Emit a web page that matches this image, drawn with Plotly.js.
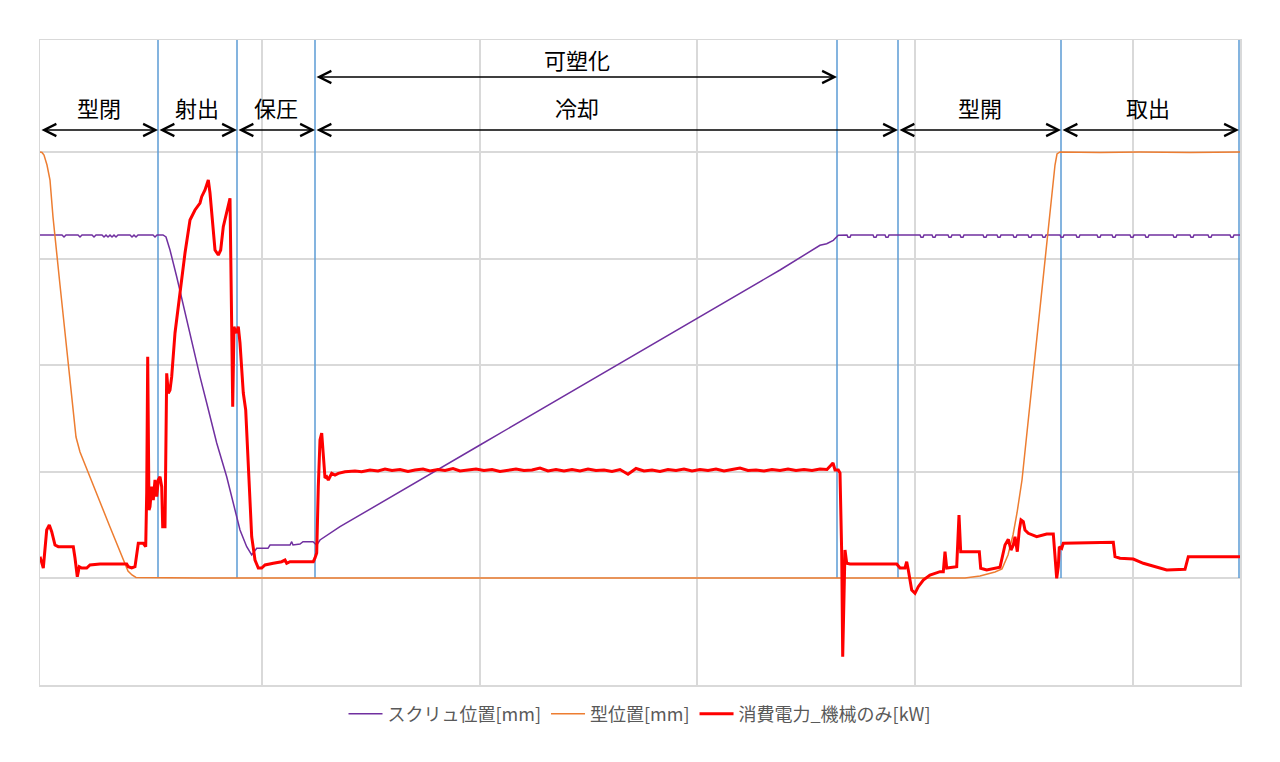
<!DOCTYPE html>
<html>
<head>
<meta charset="utf-8">
<script src="https://cdn.plot.ly/plotly-3.0.1.min.js"></script>
<style>
  html, body { margin: 0; padding: 0; background: #fff; }
  #chart { width: 1280px; height: 762px; }
</style>
</head>
<body>
<div id="chart"></div>
<script>
// ---- Data (time in samples, values in chart units; gridline spacing ≈ 106.5 units) ----
const seriesNames = ['スクリュ位置[mm]', '型位置[mm]', '消費電力_機械のみ[kW]'];

const screwT = [0,22,24,26,38,40,42,52,54,56,62,64,66,68,70,72,74,76,78,90,92,94,96,98,113,115,117,120,123,126,
  130,136.7,146.7,160,166.7,176.7,186.7,193.3,200,206.7,211.7,216.7,228,230,250,251.7,253,260,263,273,276.7,280,293,300,
  440,560,657,740,780,786.7,793.3,798.3,
  807,808,810,811,833,834,836,837,845,846,848,849,880,881,883,884,892,893,895,896,908,909,911,912,920,921,923,924,
  943,944,946,947,957,958,960,961,973,974,976,977,988,989,991,992,1002,1003,1005,1006,1020,1021,1023,1024,1036,1037,1039,1040,
  1057,1058,1060,1061,1072,1073,1075,1076,1090,1091,1093,1094,1105,1106,1108,1109,1133,1134,1136,1137,1150,1151,1153,1154,
  1168,1169,1171,1172,1190,1191,1193,1194,1203];
const screwV = [343,343,341,343,343,341,343,343,341,343,343,341,343,341,343,341,343,341,343,343,341,343,341,343,343,341,343,343,343,341,
  328,301.3,258,201.3,175,135,101.3,75,48,31.3,23,29.7,29.7,33,33,36.3,33,34,36.3,36.3,33,38,46.3,51.3,
  133,203,259,308,332.7,334.3,337.7,342.7,
  343,340.7,340.7,343,343,340.7,340.7,343,343,340.7,340.7,343,343,340.7,340.7,343,343,340.7,340.7,343,343,340.7,340.7,343,343,340.7,340.7,343,
  343,340.7,340.7,343,343,340.7,340.7,343,343,340.7,340.7,343,343,340.7,340.7,343,343,340.7,340.7,343,343,340.7,340.7,343,343,340.7,340.7,343,
  343,340.7,340.7,343,343,340.7,340.7,343,343,340.7,340.7,343,343,340.7,340.7,343,343,340.7,340.7,343,343,340.7,340.7,343,
  343,340.7,340.7,343,343,340.7,340.7,343,343];

const moldT = [0,2,4,7,10,13,20,28,36,40,50,58,70,80,88,92,96,160,360,560,760,925,940,955,962,968,973,977,982,990,1000,1008,1012,1015,1017,1020,1060,1100,1150,1203];
const moldV = [426,425.5,423,413,398,361,293,216,141,126,100,81,51,26,7,3,0.5,0,0,0,0,0,2,6,9,23,43,65,98,175,271,348,388,413,424,426,425.5,426,425.6,426];

const powerT = [0,3.3,6.7,9.3,11.7,15,18.3,33.3,35,37.3,39.3,41.7,46.7,50,60,86.7,88.3,91.7,95,98.3,103.3,105.7,106.7,107.7,109,110,111.7,113.3,115,116.7,118.3,120,121.7,122.7,125,
  126.7,128.3,130,131.7,135,140,145,150,155,160,161.7,165,168.3,170,173.3,175,178.3,180.7,183.3,186.7,190,191.7,192.7,194,195,196.7,198.3,200,203.3,205.7,208.3,211.7,215,218.3,221.7,225,233.3,241.7,245,246.7,250,273.3,
  275,276.7,278.3,280,281.7,283.3,285,286.7,288.3,291.7,295,298.3,305,315,321.7,330,338,345,352,360,368,375,383,390,398,405,413,420,428,436,444,452,460,468,476,484,492,500,508,516,524,532,540,548,556,564,572,580,588,596,604,612,620,628,636,644,652,660,668,676,684,692,700,708,716,724,732,740,748,756,764,772,780,787,793,795,798.3,
  800,801.7,802.7,804,805,806.7,810,856.7,860,865,866.7,868.3,871.7,875,878.3,883.3,890,900,903.3,905,906.7,916.7,919,920.7,939.3,940.7,946.7,960,961.7,965,968.3,971,973.3,975,977.3,979.3,981,983.3,985,988.3,996.7,1006.7,1013.3,1014.3,1016.7,1018.3,1019.3,1021.7,1023.3,1073.3,1075,1080,1093.3,1103.3,1116.7,1126.7,1145,1148.3,1203.3];
const powerV = [21.3,10,48,53,46.3,33,31.3,31.3,20,1.3,11.3,10,10,13,14,14,11.3,10,11.3,34.7,34.7,31.3,85,221.3,68,71.3,91.3,78,98,81.3,98,101.3,91.3,51.3,51.3,
  204.7,184.7,188,201.3,245,285,325,358,368,375,381.3,388,398,385,351.3,328,323,328,351.3,364.7,379.7,251.3,171.3,251.3,248,245,251.3,235,185,168,118,41.3,18,10,10,13,14.7,16.3,18,14.7,16.3,16.3,
  20,25,91.3,138,145,125,100,101.3,98,104.7,103,104.7,106.3,107,106.3,108,107,109,107.5,108.5,106.5,108,109,107,108.5,107.5,109.5,107,108,109,107.5,108.5,106.5,108,109,107.5,108,110,107,108.5,107,108.5,107,109,107.5,108,106.5,108.5,103.7,109.5,107,108,106.5,108.5,107.5,109,107,108.5,107.5,109,107,108.5,110,107.5,108,107,108.5,107.5,109,107.5,108.5,107.5,109,108.5,115,108,108,
  105,25,-78.7,-2,28,14.7,14,14,10,10,16.3,8,-12,-15.3,-8.7,-2,3,6.3,6.3,26.3,10,11.3,63,26.3,26.3,9.7,8,10.7,18,33,38.7,28,33,41.3,26.3,48,58,56.3,48,44.7,41.3,44,44,31.3,-0.3,11.3,31.3,29.7,34.7,35.7,21.3,19.7,19,14.7,10.7,8,8.7,21.3,21.3];

// Phase annotations
const phaseLabels = ['型閉', '射出', '保圧', '冷却', '型開', '取出'];
const phaseStart  = [0, 118, 197, 275, 858, 1021];
const phaseEnd    = [118, 197, 275, 858, 1021, 1199];
const phaseLabelX = [58.5, 157, 236, 537, 940, 1108];
const plastLabel = '可塑化';
const plastStart = 275, plastEnd = 797, plastLabelX = 537;
const boundaryT = [118, 197, 275, 797, 858, 1021, 1199];

// ---- Layout constants ----
const rowY = 448, rowLabelY = 471, plastY = 501, plastLabelY = 519;
const yTop = 538, yBottom = -107;
const fontFam = '"Noto Sans CJK JP", "Noto Sans", sans-serif';

const traces = [
  {x: screwT, y: screwV, name: seriesNames[0], type: 'scatter', mode: 'lines',
   line: {color: '#7030A0', width: 1.5}},
  {x: moldT, y: moldV, name: seriesNames[1], type: 'scatter', mode: 'lines',
   line: {color: '#ED7D31', width: 1.5}},
  {x: powerT, y: powerV, name: seriesNames[2], type: 'scatter', mode: 'lines',
   line: {color: '#FF0000', width: 3}}
];

const shapes = boundaryT.map(t => ({
  type: 'line', xref: 'x', yref: 'y', x0: t, x1: t, y0: 0, y1: yTop,
  line: {color: '#5B9BD5', width: 1.5}, layer: 'between'
}));

const arrowBase = {xref: 'x', yref: 'y', axref: 'x', ayref: 'y', text: '', showarrow: true,
  arrowhead: 5, startarrowhead: 5, arrowside: 'end+start', arrowsize: 1.5, startarrowsize: 1.5,
  arrowwidth: 1.6, arrowcolor: '#000000', standoff: 0, startstandoff: 0};
const annotations = [];
phaseLabels.forEach((lab, i) => {
  annotations.push(Object.assign({}, arrowBase, {x: phaseEnd[i], y: rowY, ax: phaseStart[i], ay: rowY}));
  annotations.push({xref: 'x', yref: 'y', x: phaseLabelX[i], y: rowLabelY, text: lab, showarrow: false,
    font: {family: fontFam, size: 22, color: '#000000'}});
});
annotations.push(Object.assign({}, arrowBase, {x: plastEnd, y: plastY, ax: plastStart, ay: plastY}));
annotations.push({xref: 'x', yref: 'y', x: plastLabelX, y: plastLabelY, text: plastLabel, showarrow: false,
  font: {family: fontFam, size: 22, color: '#000000'}});

const layout = {
  width: 1280, height: 762,
  margin: {l: 40, r: 40, t: 40, b: 77},
  paper_bgcolor: '#ffffff', plot_bgcolor: '#ffffff',
  showlegend: true,
  legend: {orientation: 'h', x: 0.5, xanchor: 'center', y: -0.045, yanchor: 'middle',
    font: {family: fontFam, size: 18, color: '#595959'}, itemwidth: 34},
  xaxis: {range: [0, 1200], tickmode: 'array', tickvals: [222, 440, 657, 875, 1093],
    showgrid: true, gridcolor: '#d9d9d9', gridwidth: 1.5, zeroline: false,
    showticklabels: false, ticks: '', showline: true, mirror: true, linecolor: '#d9d9d9', linewidth: 1.5},
  yaxis: {range: [yBottom, yTop], tickmode: 'array', tickvals: [0, 106, 213, 319, 426],
    showgrid: true, gridcolor: '#d9d9d9', gridwidth: 1.5, zeroline: false,
    showticklabels: false, ticks: '', showline: true, mirror: true, linecolor: '#d9d9d9', linewidth: 1.5},
  shapes: shapes,
  annotations: annotations,
  hovermode: false
};

Plotly.newPlot('chart', traces, layout, {displayModeBar: false, staticPlot: true});
</script>
</body>
</html>
